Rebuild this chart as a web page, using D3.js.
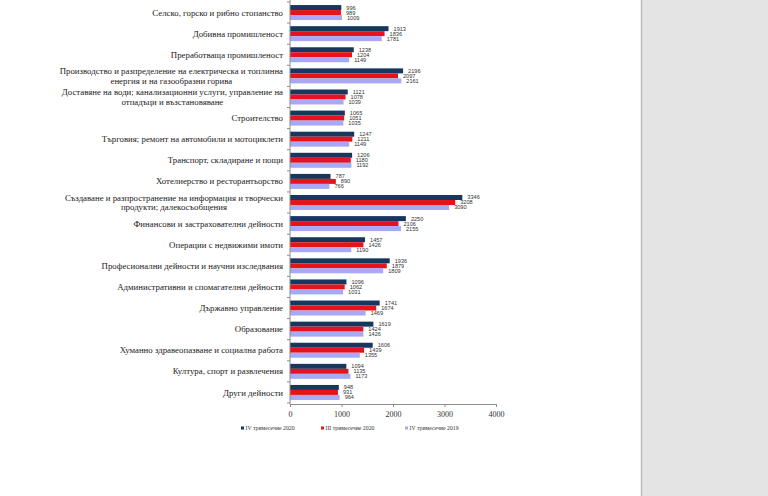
<!DOCTYPE html>
<html><head><meta charset="utf-8">
<script src="https://cdn.jsdelivr.net/npm/d3@7"></script>
<style>html,body{margin:0;padding:0;background:#fff;overflow:hidden}</style>
</head><body>
<svg id="c" width="768" height="496"></svg>
<script>
const categories = [
  ["Селско, горско и рибно стопанство"],
  ["Добивна промишленост"],
  ["Преработваща промишленост"],
  ["Производство и разпределение  на електрическа  и топлинна","енергия и на газообразни горива"],
  ["Доставяне на води; канализационни услуги,  управление  на","отпадъци и възстановяване"],
  ["Строителство"],
  ["Търговия; ремонт на автомобили и мотоциклети"],
  ["Транспорт,  складиране и пощи"],
  ["Хотелиерство и ресторантьорство"],
  ["Създаване и разпространение  на информация и творчески","продукти;  далекосъобщения"],
  ["Финансови и застрахователни  дейности"],
  ["Операции  с  недвижими имоти"],
  ["Професионални дейности и научни изследвания"],
  ["Административни  и спомагателни  дейности"],
  ["Държавно управление"],
  ["Образование"],
  ["Хуманно  здравеопазване и социална работа"],
  ["Култура,  спорт и развлечения"],
  ["Други дейности"]
];
const seriesNames = ["IV тримесечие 2020", "III тримесечие 2020", "IV тримесечие 2019"];
const q4_2020 = [996,1913,1238,2196,1121,1065,1247,1206,787,3346,2250,1457,1936,1096,1741,1619,1606,1094,948];
const q3_2020 = [989,1836,1204,2097,1078,1051,1211,1180,890,3208,2106,1426,1879,1062,1674,1424,1439,1135,931];
const q4_2019 = [1009,1781,1149,2161,1039,1035,1149,1192,766,3090,2155,1190,1809,1031,1469,1426,1355,1173,964];
const xTicks = [0,1000,2000,3000,4000];
const colors = ["#17375e","#e5131b","#a8a8f4"];

const series = [q4_2020, q3_2020, q4_2019];
const svg = d3.select("#c");

// right gray panel
svg.append("rect").attr("x",641).attr("y",0).attr("width",127).attr("height",496).attr("fill","#e4e4e4");
svg.append("line").attr("x1",641.5).attr("x2",641.5).attr("y1",0).attr("y2",496).attr("stroke","#bdbdbd").attr("stroke-width",1.5);

const x = d3.scaleLinear().domain([0,4000]).range([290,496]);
const y = d3.scaleBand().domain(d3.range(categories.length)).range([2,403]).paddingInner(0.29).paddingOuter(0.145);
const yInner = d3.scaleBand().domain(d3.range(3)).range([0,y.bandwidth()]);

// bars
series.forEach((vals,si)=>{
  const g = svg.append("g");
  g.selectAll("rect").data(vals).join("rect")
    .attr("x",x(0)).attr("y",(d,i)=>y(i)+yInner(si))
    .attr("width",d=>x(d)-x(0)).attr("height",yInner.bandwidth())
    .attr("fill",colors[si]);
  g.selectAll("text").data(vals).join("text")
    .attr("x",d=>x(d)+5).attr("y",(d,i)=>y(i)+yInner(si)+yInner.bandwidth()/2)
    .attr("dy","0.35em")
    .attr("font-family","Liberation Sans, Arial, sans-serif").attr("font-size",5.6)
    .attr("fill","#333").text(d=>d);
});

// axes
const xAxis = d3.axisBottom(x).tickValues(xTicks).tickSize(3).tickFormat(d3.format("d"));
const gx = svg.append("g").attr("transform","translate(0,404)").call(xAxis);
gx.select(".domain").attr("stroke","#8c8c8c");
gx.selectAll(".tick line").attr("stroke","#8c8c8c");
gx.selectAll("text").attr("font-family","Liberation Serif, Times New Roman, serif").attr("font-size",8).attr("fill","#333").attr("dy","0.9em");

// y axis line + band ticks
const yAxisG = svg.append("g");
yAxisG.append("line").attr("x1",x(0)).attr("x2",x(0)).attr("y1",0).attr("y2",404).attr("stroke","#8c8c8c");
const boundaries = d3.range(categories.length+1).map(i=> i<categories.length ? y(i)-y.step()*y.paddingInner()/2 : 403);
yAxisG.selectAll("line.t").data(boundaries).join("line").attr("class","t")
  .attr("x1",x(0)-3).attr("x2",x(0)).attr("y1",d=>d).attr("y2",d=>d).attr("stroke","#8c8c8c");

// category labels
const labG = svg.append("g").attr("font-family","Liberation Serif, Times New Roman, serif").attr("font-size",8.8).attr("fill","#222");
categories.forEach((lines,i)=>{
  const cy = y(i)+y.bandwidth()/2;
  const t = labG.append("text").attr("text-anchor","end");
  const lh = 9.4;
  const y0 = cy - (lines.length-1)*lh/2;
  const spans = lines.map((s,k)=>t.append("tspan").attr("x",283).attr("y",y0+k*lh).attr("dy","0.35em").text(s));
  if(lines.length>1){
    const widths = spans.map(sp=>sp.node().getComputedTextLength());
    const mw = d3.max(widths);
    t.attr("text-anchor","middle");
    spans.forEach(sp=>sp.attr("x",283-mw/2));
  }
});

// legend
const leg = svg.append("g").attr("font-family","Liberation Serif, Times New Roman, serif").attr("font-size",5.8).attr("fill","#333");
const legX = [241,321,405];
seriesNames.forEach((n,i)=>{
  leg.append("rect").attr("x",legX[i]).attr("y",426.5).attr("width",3).attr("height",3).attr("fill",colors[i]);
  leg.append("text").attr("x",legX[i]+4.5).attr("y",428).attr("dy","0.35em").text(n);
});
</script>
</body></html>
